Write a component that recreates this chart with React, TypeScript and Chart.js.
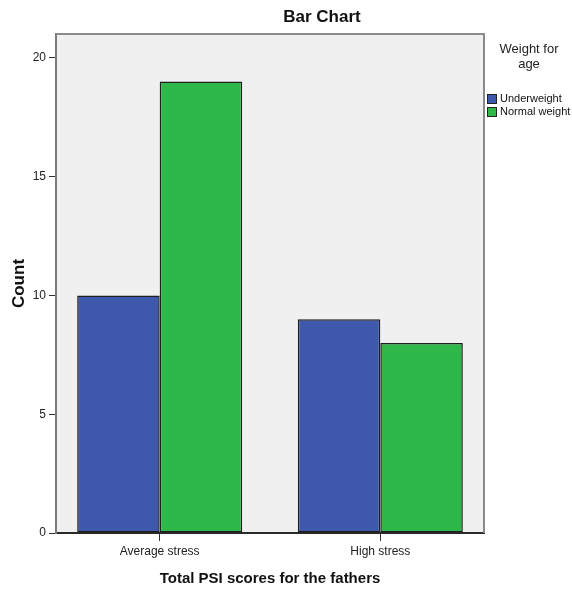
import React, { useEffect, useRef } from "react";
import { Chart, registerables } from "chart.js";

Chart.register(...registerables);

const chartTitle = "Bar Chart";
const categories = ["Average stress", "High stress"];
const seriesNames = ["Underweight", "Normal weight"];
const underweight = [10, 9];
const normalWeight = [19, 8];
const seriesColors = ["#3e58ac", "#2eb84a"];
const legendTitle = ["Weight for", "age"];
const xTitle = "Total PSI scores for the fathers";
const yTitle = "Count";
const yTicks = [0, 5, 10, 15, 20];
const yMax = 21;

const FONT = "'Liberation Sans', Arial, sans-serif";

const decor = {
  id: "spssDecor",
  beforeDraw(chart: any) {
    const { ctx, chartArea: a } = chart;
    ctx.save();
    ctx.fillStyle = "#ffffff";
    ctx.fillRect(0, 0, chart.width, chart.height);
    ctx.fillStyle = "#f0f0f0";
    ctx.fillRect(a.left, a.top, a.right - a.left, a.bottom - a.top);
    ctx.restore();
  },
  beforeDatasetsDraw(chart: any) {
    const { ctx, chartArea: a } = chart;
    ctx.save();
    ctx.strokeStyle = "#8a8a8a";
    ctx.lineWidth = 2;
    ctx.beginPath();
    ctx.moveTo(a.left, a.top);
    ctx.lineTo(a.right, a.top);
    ctx.lineTo(a.right, a.bottom);
    ctx.stroke();
    ctx.restore();
  },
  afterDraw(chart: any) {
    const { ctx, chartArea: a } = chart;
    ctx.save();
    ctx.fillStyle = "#111";
    ctx.font = `bold 17px ${FONT}`;
    ctx.textAlign = "center";
    ctx.textBaseline = "middle";
    ctx.fillText(chartTitle, 322, 17);
    ctx.font = `13px ${FONT}`;
    ctx.fillStyle = "#222";
    const lx = (a.right + chart.width) / 2 + 1;
    legendTitle.forEach((t, i) => ctx.fillText(t, lx, 49 + i * 15));
    ctx.font = `11px ${FONT}`;
    ctx.textAlign = "left";
    chart.data.datasets.forEach((ds: any, i: number) => {
      const bx = a.right + 3;
      const by = 94 + i * 13;
      ctx.fillStyle = ds.backgroundColor;
      ctx.fillRect(bx, by, 9, 9);
      ctx.strokeStyle = "#222";
      ctx.lineWidth = 1;
      ctx.strokeRect(bx + 0.5, by + 0.5, 9, 9);
      ctx.fillStyle = "#111";
      ctx.fillText(ds.label, bx + 13, by + 5);
    });
    ctx.restore();
  },
};

export default function App() {
  const ref = useRef<HTMLCanvasElement | null>(null);

  useEffect(() => {
    if (!ref.current) return;
    const seriesValues = [underweight, normalWeight];
    const chart = new Chart(ref.current, {
      type: "bar",
      data: {
        datasets: seriesNames.map((name, s) => ({
          label: name,
          data: categories.map((_, i) => ({ x: i, y: seriesValues[s][i] })),
          backgroundColor: seriesColors[s],
          borderColor: "#1e1e1e",
          borderWidth: 1.5,
          borderSkipped: false,
          categoryPercentage: 0.748,
          barPercentage: 1,
        })),
      },
      options: {
        responsive: false,
        animation: false,
        devicePixelRatio: 1,
        layout: { padding: { left: 0, top: 34, right: 88, bottom: 0 } },
        plugins: {
          legend: { display: false },
          title: { display: false },
          tooltip: { enabled: false },
        },
        scales: {
          x: {
            type: "linear",
            offset: false,
            min: -0.47,
            max: 1.47,
            afterBuildTicks: (scale: any) => {
              scale.ticks = categories.map((_, i) => ({ value: i }));
            },
            afterFit: (scale: any) => {
              scale.height = 57;
            },
            grid: {
              display: true,
              offset: false,
              drawOnChartArea: false,
              drawTicks: true,
              tickLength: 8,
              tickColor: "#333",
              tickWidth: 1,
            },
            border: { display: true, color: "#2a2a2a", width: 2 },
            ticks: {
              autoSkip: false,
              maxRotation: 0,
              padding: 3,
              color: "#222",
              font: { family: FONT, size: 12 },
              callback: (v: any) => categories[v] ?? "",
            },
            title: {
              display: true,
              text: xTitle,
              color: "#111",
              font: { family: FONT, size: 15, weight: "bold" },
              padding: { top: 0, bottom: 2 },
            },
          },
          y: {
            min: 0,
            max: yMax,
            afterBuildTicks: (scale: any) => {
              scale.ticks = yTicks.map((v) => ({ value: v }));
            },
            afterFit: (scale: any) => {
              scale.width = 56;
            },
            grid: {
              display: true,
              drawOnChartArea: false,
              drawTicks: true,
              tickLength: 7,
              tickColor: "#333",
              tickWidth: 1,
            },
            border: { display: true, color: "#7a7a7a", width: 2 },
            ticks: {
              padding: 3,
              color: "#222",
              font: { family: FONT, size: 12 },
            },
            title: {
              display: true,
              text: yTitle,
              color: "#111",
              font: { family: FONT, size: 17, weight: "bold" },
              padding: { top: 9, bottom: 0 },
            },
          },
        },
      },
      plugins: [decor],
    } as any);
    return () => chart.destroy();
  }, []);

  return (
    <div style={{ position: "absolute", left: 0, top: 0, width: 572, height: 590 }}>
      <canvas ref={ref} width={572} height={590} />
    </div>
  );
}
